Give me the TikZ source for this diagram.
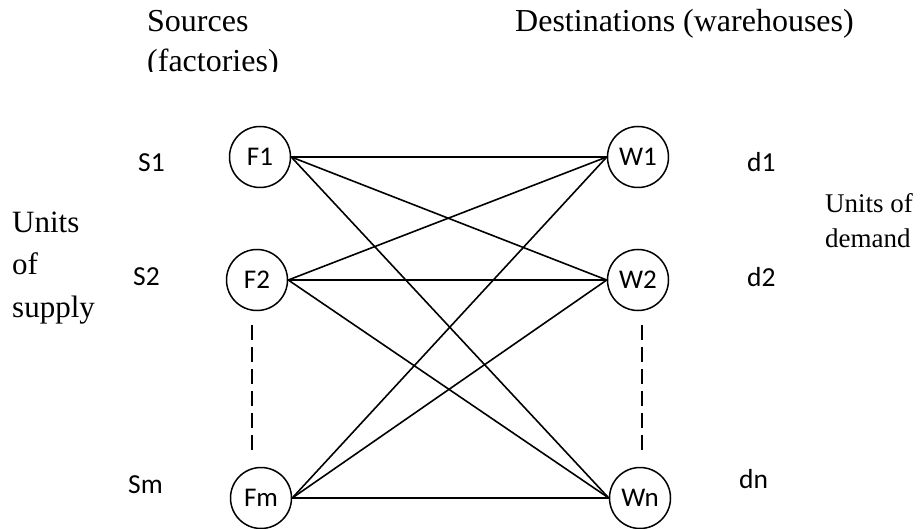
\documentclass[tikz,border=0pt]{standalone}
\usepackage{fontspec}
\setmainfont{Liberation Serif}
\newfontfamily\calib{Carlito}
\begin{document}
\begin{tikzpicture}[x=1pt,y=-1pt,
  place/.style={draw,circle,line width=1.5pt,minimum size=61pt,inner sep=0pt,font=\calib\fontsize{27}{30}\selectfont},
  sidelbl/.style={anchor=base west,inner sep=0pt,font=\calib\fontsize{27.5}{30}\selectfont},
  toplbl/.style={anchor=base west,inner sep=0pt,font=\fontsize{32}{38}\selectfont},
  leftlbl/.style={anchor=base west,inner sep=0pt,font=\fontsize{31}{36}\selectfont},
  rightlbl/.style={anchor=base west,inner sep=0pt,font=\fontsize{27}{32}\selectfont},
  link/.style={line width=1.6pt},
  dotlink/.style={line width=1.7pt,dash pattern=on 15pt off 7pt}]
\useasboundingbox (0,0) rectangle (923,529);
% headings
\node[toplbl] (src) at (147,32) {Sources};
\begin{scope}
\clip (100,40) rectangle (320,72);
\node[toplbl] (fac) at (147,72) {(factories)};
\end{scope}
\node[toplbl] (dst) at (515,32) {Destinations (warehouses)};
% side texts
\node[leftlbl] (u1) at (12,233) {Units};
\node[leftlbl] (u2) at (12,275) {of};
\node[leftlbl] (u3) at (12,317) {supply};
\node[rightlbl] (v1) at (825,213) {Units of};
\node[rightlbl] (v2) at (825,248) {demand};
% nodes
\node[place] (F1) at (260,157) {F1};
\node[place] (F2) at (257,280) {F2};
\node[place] (Fm) at (261,498) {Fm};
\node[place] (W1) at (638,157) {W1};
\node[place] (W2) at (638,280) {W2};
\node[place] (Wn) at (640,498) {Wn};
% amounts
\node[sidelbl] (s1) at (138,172) {S1};
\node[sidelbl] (s2) at (133,285) {S2};
\node[sidelbl] (sm) at (128,493) {Sm};
\node[sidelbl] (d1) at (747,172) {d1};
\node[sidelbl] (d2) at (747,287) {d2};
\node[sidelbl] (dn) at (739,488) {dn};
% connectors
\foreach \f in {F1,F2,Fm}
  \foreach \w in {W1,W2,Wn}
    \draw[link] (\f.east) -- (\w.west);
% dashed continuations
\coordinate (la) at (252,325);
\coordinate (lb) at (252,452);
\coordinate (ra) at (642,325);
\coordinate (rb) at (642,452);
\draw[dotlink] (la) -- (lb);
\draw[dotlink] (ra) -- (rb);
\end{tikzpicture}
\end{document}
